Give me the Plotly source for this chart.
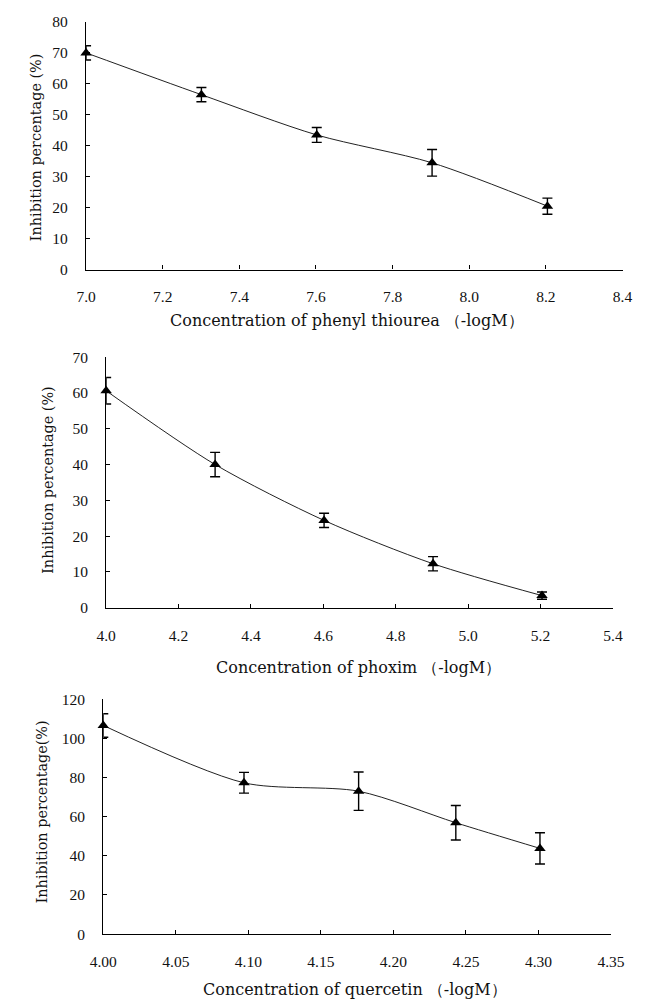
import plotly.graph_objects as go

# The page body has a default 8px margin, so the figure is drawn 8px in from
# the window's top-left corner; lay out everything in window pixels and shift.
OFF = 8
W, H = 648 - OFF, 1008 - OFF

# Panel 1: phenyl thiourea
x1 = [7.0, 7.301, 7.602, 7.903, 8.204]
y1 = [70.0, 56.5, 43.5, 34.5, 20.5]
e1 = [2.3, 2.3, 2.4, 4.3, 2.6]

# Panel 2: phoxim
x2 = [4.0, 4.301, 4.602, 4.903, 5.204]
y2 = [60.6, 40.0, 24.4, 12.3, 3.4]
e2 = [3.7, 3.4, 2.0, 2.0, 1.0]

# Panel 3: quercetin
x3 = [4.0, 4.097, 4.176, 4.243, 4.301]
y3 = [106.6, 77.3, 73.0, 56.9, 43.8]
e3 = [6.0, 5.3, 9.8, 8.8, 8.0]

xtitles = ["Concentration of phenyl thiourea （-logM）",
           "Concentration of phoxim （-logM）",
           "Concentration of quercetin （-logM）"]
ytitles = ["Inhibition percentage (%)", "Inhibition percentage (%)",
           "Inhibition percentage(%)"]

# window-pixel boxes for plot areas (left, right, top, bottom)
boxes = [(75, 636, 13, 265), (96, 626, 354, 609), (93, 624, 702, 941)]
xtitle_pos = [(348, 317), (360, 670), (356, 997)]
ytitle_pos = [(22, 140), (35, 479), (29, 817)]
xranges = [[7.0, 8.4], [4.0, 5.4], [4.0, 4.35]]
yranges = [[0, 80], [0, 70], [0, 120]]
xdticks = [0.2, 0.2, 0.05]
ydticks = [10, 10, 20]
xformats = [".1f", ".1f", ".2f"]

TICKFONT = dict(family="Liberation Serif", size=15.5, color="#111")
XTFONT = dict(family="DejaVu Serif", size=16, color="#111")
YTFONT = dict(family="DejaVu Serif", size=14.4, color="#111")

fig = go.Figure()
series = [(x1, y1, e1), (x2, y2, e2), (x3, y3, e3)]
for i, (xs, ys, es) in enumerate(series):
    n = "" if i == 0 else str(i + 1)
    fig.add_trace(go.Scatter(
        x=xs, y=ys, xaxis="x" + n, yaxis="y" + n,
        mode="lines+markers",
        line=dict(color="#222", width=1, shape="spline", smoothing=0.8),
        marker=dict(symbol="triangle-up", size=10, color="black"),
        error_y=dict(type="data", array=es, visible=True, color="black",
                     thickness=1.4, width=5),
        cliponaxis=False, showlegend=False,
    ))

def px_x(v):
    return (v - OFF) / W

def px_y(v):
    return 1 - (v - OFF) / H

layout = dict(width=W, height=H, margin=dict(l=0, r=0, t=0, b=0),
              paper_bgcolor="white", plot_bgcolor="white", showlegend=False)
annotations = []
for i, (l, r, t, b) in enumerate(boxes):
    n = "" if i == 0 else str(i + 1)
    layout["xaxis" + n] = dict(
        domain=[px_x(l), px_x(r)], anchor="y" + n, range=xranges[i],
        dtick=xdticks[i], tick0=xranges[i][0], tickformat=xformats[i],
        showline=True, linecolor="black", linewidth=1.3,
        ticks="inside", ticklen=4, tickwidth=1, tickcolor="black",
        showgrid=False, zeroline=False, tickfont=TICKFONT,
        ticklabelstandoff=13, fixedrange=True,
    )
    layout["yaxis" + n] = dict(
        domain=[px_y(b), px_y(t)], anchor="x" + n, range=yranges[i],
        dtick=ydticks[i], tick0=0,
        showline=True, linecolor="black", linewidth=1.3,
        ticks="inside", ticklen=4, tickwidth=1, tickcolor="black",
        showgrid=False, zeroline=False, tickfont=TICKFONT,
        ticklabelstandoff=14, fixedrange=True,
    )
    xtx, xty = xtitle_pos[i]
    ytx, yty = ytitle_pos[i]
    annotations.append(dict(
        text=xtitles[i], xref="paper", yref="paper",
        x=px_x(xtx), y=px_y(xty), showarrow=False,
        xanchor="center", yanchor="middle", font=XTFONT))
    annotations.append(dict(
        text=ytitles[i], xref="paper", yref="paper",
        x=px_x(ytx), y=px_y(yty), showarrow=False, textangle=-90,
        xanchor="center", yanchor="middle", font=YTFONT))
layout["annotations"] = annotations
fig.update_layout(**layout)
fig.write_html("out.html")
